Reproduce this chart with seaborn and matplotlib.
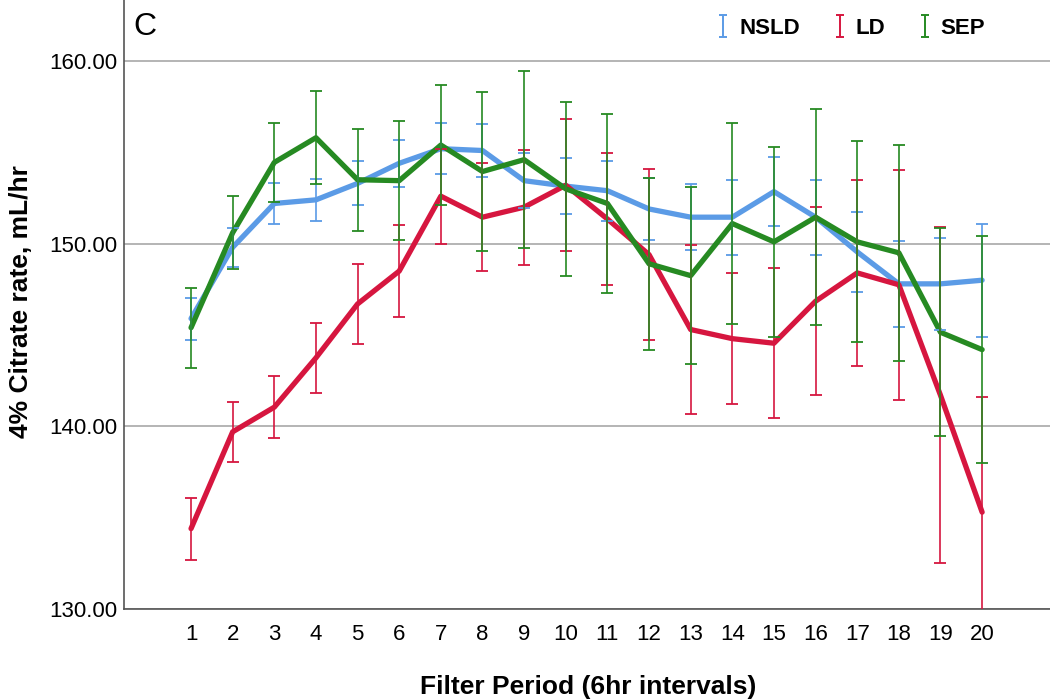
import matplotlib
matplotlib.use('Agg')
import matplotlib.pyplot as plt
import seaborn as sns
import pandas as pd


### DATA ###

periods = list(range(1, 21))

groups = ['NSLD', 'LD', 'SEP']

nsld_mean = [145.9, 149.8, 152.2, 152.4, 153.3, 154.4, 155.2, 155.1, 153.45, 153.15,
             152.9, 151.9, 151.45, 151.45, 152.85, 151.45, 149.55, 147.8, 147.8, 148.0]
nsld_err = [1.15, 1.05, 1.1, 1.15, 1.2, 1.3, 1.4, 1.45, 1.5, 1.55,
            1.65, 1.7, 1.8, 2.05, 1.9, 2.05, 2.2, 2.35, 2.5, 3.1]

ld_mean = [134.4, 139.7, 141.05, 143.75, 146.7, 148.5, 152.6, 151.45, 152.0, 153.2,
           151.35, 149.4, 145.3, 144.8, 144.55, 146.85, 148.4, 147.75, 141.7, 135.3]
ld_err = [1.7, 1.65, 1.7, 1.9, 2.2, 2.5, 2.6, 2.95, 3.15, 3.6,
          3.6, 4.7, 4.6, 3.6, 4.1, 5.15, 5.1, 6.3, 9.2, 6.3]

sep_mean = [145.4, 150.6, 154.45, 155.8, 153.5, 153.45, 155.4, 153.95, 154.6, 153.0,
            152.2, 148.9, 148.25, 151.1, 150.1, 151.45, 150.1, 149.5, 145.15, 144.2]
sep_err = [2.2, 2.0, 2.15, 2.55, 2.8, 3.25, 3.3, 4.35, 4.85, 4.75,
           4.9, 4.7, 4.85, 5.5, 5.2, 5.9, 5.5, 5.9, 5.7, 6.2]

y_ticks = [130, 140, 150, 160]

colors = {
    'NSLD': '#5b9be6',
    'LD': '#d6163f',
    'SEP': '#268a22'
}

# long format for seaborn
df = pd.concat([
    pd.DataFrame({'period': periods, 'rate': m, 'err': e, 'group': g})
    for g, m, e in zip(
        groups,
        [nsld_mean, ld_mean, sep_mean],
        [nsld_err, ld_err, sep_err]
    )
], ignore_index=True)


### PLOT ###

sns.set_style('white')
plt.rcParams['font.family'] = ['Liberation Sans', 'DejaVu Sans']
plt.rcParams['text.color'] = 'black'
plt.rcParams['axes.labelcolor'] = 'black'
plt.rcParams['xtick.color'] = 'black'
plt.rcParams['ytick.color'] = 'black'

fig = plt.figure(figsize=(10.5, 6.99), dpi=100)
ax = fig.add_axes([124 / 1050, 1 - 609 / 699, 926 / 1050, 609 / 699])

ax.grid(axis='y', color='#b4b4b4', linewidth=1.4)
ax.set_axisbelow(True)

sns.lineplot(
    data=df,
    x='period',
    y='rate',
    hue='group',
    hue_order=groups,
    palette=colors,
    linewidth=3.8,
    errorbar=None,
    legend=False,
    ax=ax
)

for g in groups:
    sub = df[df['group'] == g]
    ax.errorbar(
        sub['period'],
        sub['rate'],
        yerr=sub['err'],
        fmt='none',
        ecolor=colors[g],
        elinewidth=1.2,
        capsize=4,
        capthick=1.3,
        zorder=3
    )

# legend with error bar glyphs (dummy point outside the view)
handles = []
for g in groups:
    h = ax.errorbar(
        [-10], [100], yerr=[1],
        fmt='none',
        ecolor=colors[g],
        elinewidth=1.4,
        capsize=3,
        capthick=1.4,
        label=g
    )
    handles.append(h)

ax.legend(
    handles=handles,
    labels=groups,
    ncol=3,
    frameon=False,
    loc='center right',
    bbox_to_anchor=(985 / 1050, 1 - 28 / 699),
    bbox_transform=fig.transFigure,
    borderaxespad=0,
    borderpad=0,
    handlelength=0.6,
    handletextpad=0.4,
    columnspacing=1.5,
    prop={'weight': 'bold', 'size': 16}
)

ax.set_xlim(-0.61, 21.63)
ax.set_ylim(130, 163.34)
ax.set_xticks(periods)
ax.set_yticks(y_ticks)
ax.set_yticklabels([f'{v:.2f}' for v in y_ticks])
ax.tick_params(axis='x', length=0, pad=11, labelsize=16)
ax.tick_params(axis='y', length=0, pad=5, labelsize=16)

for side in ['top', 'right']:
    ax.spines[side].set_visible(False)
for side in ['left', 'bottom']:
    ax.spines[side].set_color('#555555')
    ax.spines[side].set_linewidth(1.2)

ax.set_xlabel('Filter Period (6hr intervals)', fontsize=19, fontweight='bold')
ax.set_ylabel('4% Citrate rate, mL/hr', fontsize=19, fontweight='bold')
ax.xaxis.set_label_coords(0.501, -0.108)
ax.yaxis.set_label_coords(-0.098, 0.505)

fig.text(133 / 1050, 1 - 12 / 699, 'C', fontsize=23, va='top', ha='left')

fig.savefig('out.png', dpi=100)
